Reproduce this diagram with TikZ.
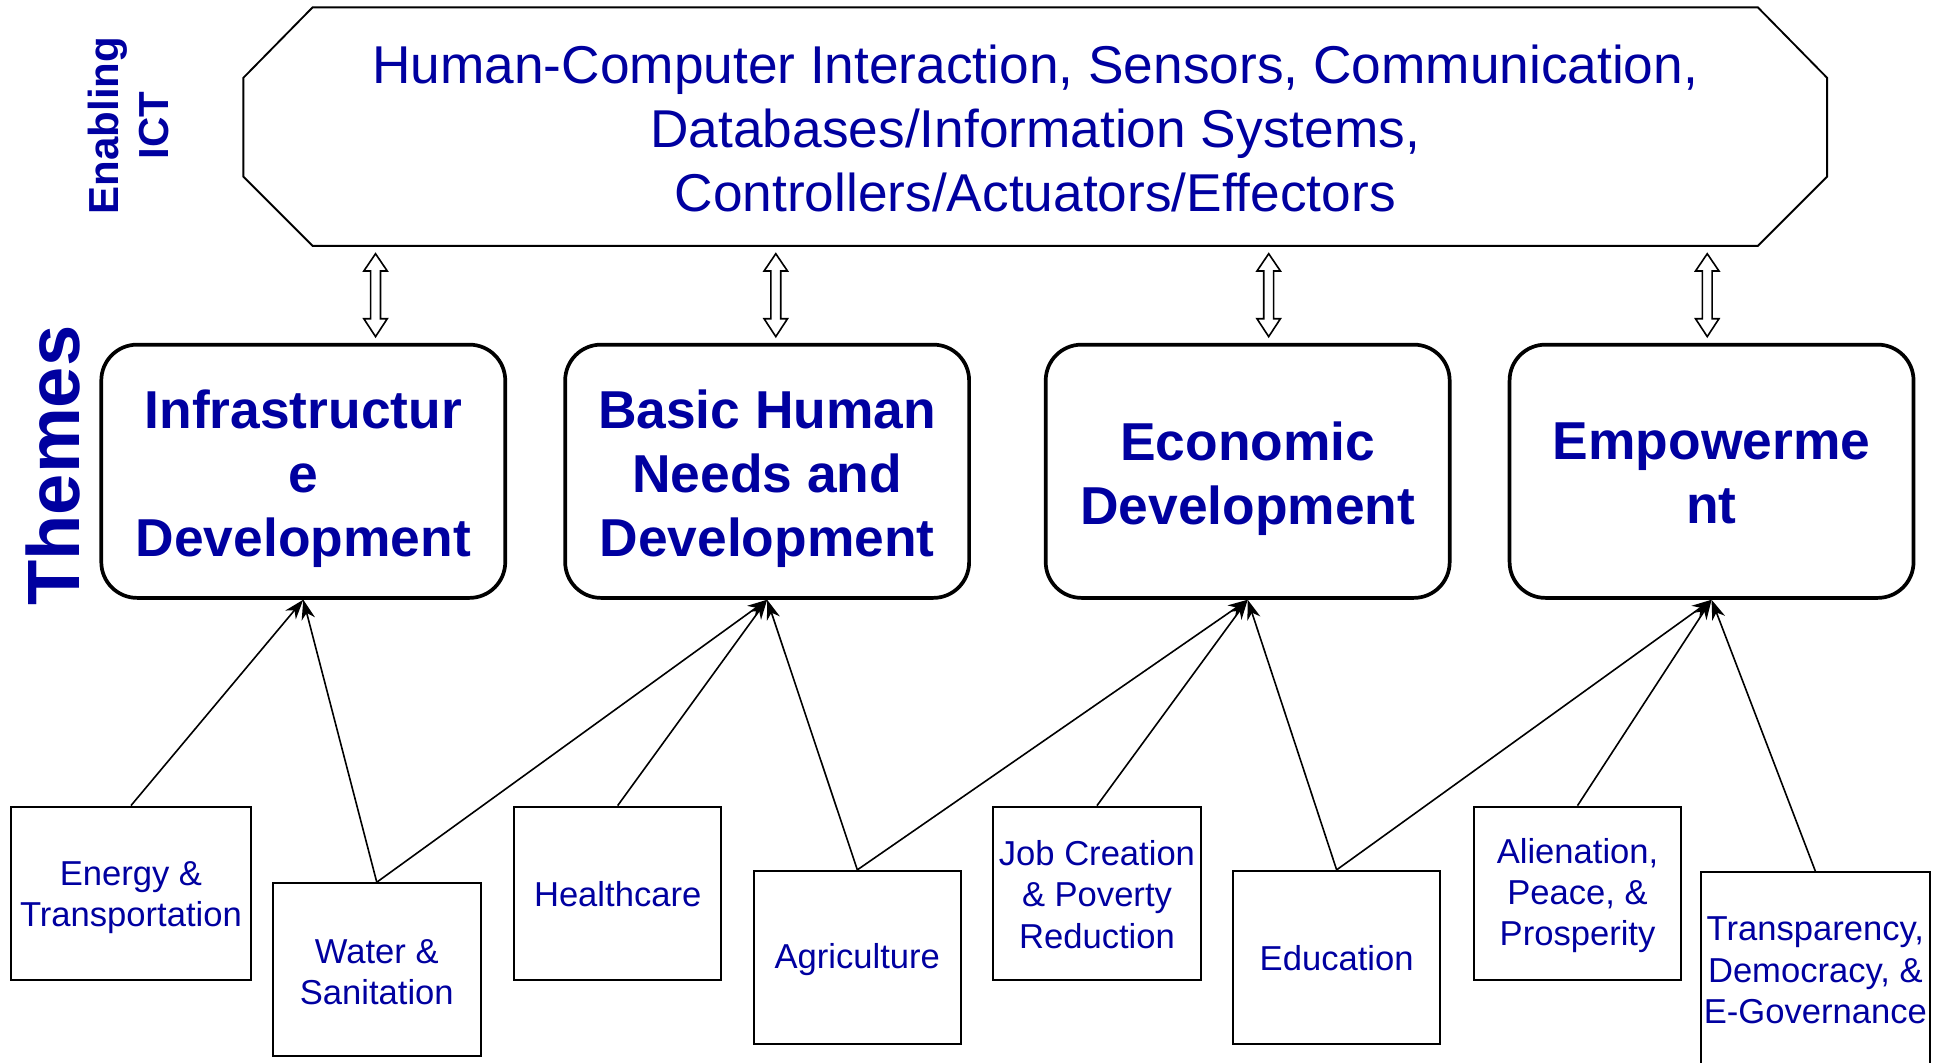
\documentclass[tikz,border=0pt]{standalone}
\usepackage{fontspec}
\setmainfont{Liberation Sans}
\usetikzlibrary{calc,arrows.meta}
\definecolor{ictblue}{RGB}{0,0,160}
\newcommand\hollowarrow[2]{%
  \draw[hollowarr] ($(#1)+(0,6)$) -- ($(#1)+(9.5,20)$) -- ($(#1)+(4,20)$) -- ($(#2)+(4,-19.5)$) -- ($(#2)+(9.5,-19.5)$) -- ($(#2)+(0,-5)$) -- ($(#2)+(-9.5,-19.5)$) -- ($(#2)+(-4,-19.5)$) -- ($(#1)+(-4,20)$) -- ($(#1)+(-9.5,20)$) -- cycle;}
\begin{document}
\begin{tikzpicture}[x=0.5pt,y=-0.5pt,
  octline/.style={draw=black,line width=0.75pt,line join=miter},
  octtext/.style={text=ictblue,align=center,font=\fontsize{21.55}{26}\selectfont,inner sep=0pt},
  theme/.style={draw=black,line width=1.5pt,rounded corners=14.5pt,minimum width=163.5pt,minimum height=102.5pt,inner sep=0pt},
  themetext/.style={inner sep=0pt,text=ictblue,align=center,font=\bfseries\fontsize{21.6}{26}\selectfont},
  topic/.style={draw=black,line width=0.85pt,minimum height=70pt,inner sep=0pt,text=ictblue,align=center,font=\fontsize{14}{16.75}\selectfont},
  sidelabel/.style={text=ictblue,align=center,rotate=90,inner sep=0pt},
  hollowarr/.style={draw=black,fill=white,line width=0.65pt,line join=miter},
  conn/.style={draw=black,line width=0.65pt,-{Stealth[length=8pt,width=5.5pt,inset=2.5pt]}}]
\useasboundingbox (0,0) rectangle (1568,859.7);
\clip (0,0) rectangle (1568,859.7);
\fill[white] (0,0) rectangle (1568,859.7);
% enabling ICT octagon
\node[minimum width=641pt,minimum height=96.5pt,inner sep=0pt] (ict) at (838,102.5) {};
\draw[octline] (253,6) -- (1423,6) -- (1479,63) -- (1479,143) -- (1423,199) -- (253,199) -- (197,143) -- (197,63) -- cycle;
\node[octtext] (icttext) at (838,104) {Human-Computer Interaction, Sensors, Communication,\\Databases/Information Systems,\\Controllers/Actuators/Effectors};
% side labels
\node[sidelabel,font=\bfseries\fontsize{17}{20}\selectfont] (enab) at (104,101.5) {Enabling\\ICT};
\node[sidelabel,font=\bfseries\fontsize{30}{36}\selectfont] (themes) at (43,377) {Themes};
% themes
\node[theme] (th1) at (245.5,381.5) {};
\node[theme] (th2) at (621,381.5) {};
\node[theme] (th3) at (1010,381.5) {};
\node[theme] (th4) at (1385.5,381.5) {};
\node[themetext] (th1t) at ($(th1.center)+(0,6)$) {Infrastructur\\e\\Development};
\node[themetext] (th2t) at ($(th2.center)+(0,6)$) {Basic Human\\Needs and\\Development};
\node[themetext] (th3t) at ($(th3.center)+(0,6)$) {Economic\\Development};
\node[themetext] (th4t) at ($(th4.center)+(0,2)$) {Empowerme\\nt};
% hollow double arrows
\foreach \n/\xx in {1/304,2/628,3/1027,4/1382}{
  \coordinate (at\n) at (ict.south -| \xx,0);
  \coordinate (ab\n) at (th\n.north -| \xx,0);
  \hollowarrow{at\n}{ab\n}
}
% topics
\node[topic,minimum width=97pt] (energy) at (106,723) {};
\node[topic,minimum width=84pt] (water) at (305,785) {};
\node[topic,minimum width=84pt] (health) at (500,723) {};
\node[topic,minimum width=84pt] (agri) at (694,775) {};
\node[topic,minimum width=84pt] (job) at (888,723) {};
\node[topic,minimum width=84pt] (edu) at (1082,775) {};
\node[topic,minimum width=84pt] (alien) at (1277,723) {};
\node[topic,minimum width=92.5pt,minimum height=78.5pt] (transp) at (1469.5,784.5) {};
\tikzset{topictext/.style={inner sep=0pt,text=ictblue,align=center,font=\fontsize{14}{16.75}\selectfont}}
\node[topictext] (energyt) at ($(energy.center)+(0,3.5)$) {Energy \&\\Transportation};
\node[topictext] (watert) at ($(water.center)+(0,2)$) {Water \&\\Sanitation};
\node[topictext] (healtht) at ($(health.center)+(0,1)$) {Healthcare};
\node[topictext] (agrit) at ($(agri.center)+(0,2)$) {Agriculture};
\node[topictext] (jobt) at ($(job.center)+(0,1)$) {Job Creation\\\& Poverty\\Reduction};
\node[topictext] (edut) at ($(edu.center)+(0,1)$) {Education};
\node[topictext] (alient) at ($(alien.center)+(0,2)$) {Alienation,\\Peace, \&\\Prosperity};
\node[topictext] (transpt) at ($(transp.center)+(0,1)$) {Transparency,\\Democracy, \&\\E-Governance};
% connectors
\draw[conn] (energy.north) -- (th1.south);
\draw[conn] (water.north) -- (th1.south);
\draw[conn] (water.north) -- (th2.south);
\draw[conn] (health.north) -- (th2.south);
\draw[conn] (agri.north) -- (th2.south);
\draw[conn] (agri.north) -- (th3.south);
\draw[conn] (job.north) -- (th3.south);
\draw[conn] (edu.north) -- (th3.south);
\draw[conn] (edu.north) -- (th4.south);
\draw[conn] (alien.north) -- (th4.south);
\draw[conn] (transp.north) -- (th4.south);
\end{tikzpicture}
\end{document}
